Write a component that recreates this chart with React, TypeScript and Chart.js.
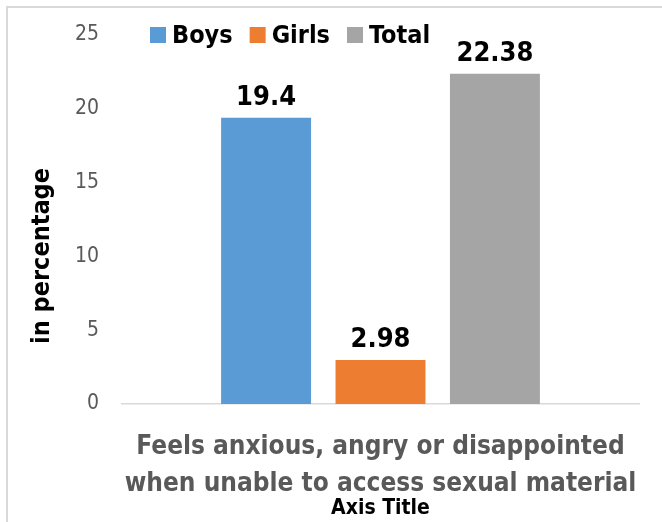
import React, { useEffect, useRef } from "react";
import { Chart, registerables } from "chart.js";

Chart.register(...registerables);

const categories: string[][] = [["Feels anxious, angry or disappointed", "when unable to access sexual material"]];
const seriesNames = ["Boys", "Girls", "Total"];
const boysValues = [19.4];
const girlsValues = [2.98];
const totalValues = [22.38];
const seriesColors = ["#5B9BD5", "#ED7D31", "#A5A5A5"];
const yTitle = "in percentage";
const xTitle = "Axis Title";

const FONT = '"Liberation Sans Narrow", "DejaVu Sans Condensed", Arial, sans-serif';

const framePlugin = {
  id: "frame",
  beforeDraw(chart: any) {
    const ctx = chart.ctx;
    ctx.save();
    ctx.strokeStyle = "#D9D9D9";
    ctx.lineWidth = 2;
    ctx.beginPath();
    ctx.moveTo(7, chart.height);
    ctx.lineTo(7, 7);
    ctx.lineTo(chart.width, 7);
    ctx.stroke();
    ctx.restore();
  },
};

const labelsPlugin = {
  id: "valueLabels",
  afterDatasetsDraw(chart: any) {
    const ctx = chart.ctx;
    ctx.save();
    ctx.font = `bold 27px ${FONT}`;
    ctx.fillStyle = "#000000";
    ctx.textAlign = "center";
    ctx.textBaseline = "alphabetic";
    chart.data.datasets.forEach((ds: any, i: number) => {
      const meta = chart.getDatasetMeta(i);
      meta.data.forEach((bar: any, j: number) => {
        ctx.fillText(String(ds.data[j]), bar.x, bar.y - 13);
      });
    });
    ctx.restore();
  },
};

const legendPlugin = {
  id: "customLegend",
  afterDraw(chart: any) {
    const ctx = chart.ctx;
    ctx.save();
    ctx.font = `bold 25px ${FONT}`;
    ctx.textBaseline = "middle";
    ctx.textAlign = "left";
    let x = 150;
    const y = 35;
    chart.data.datasets.forEach((ds: any) => {
      ctx.fillStyle = ds.backgroundColor;
      ctx.fillRect(x, y - 8, 16, 16);
      x += 22;
      ctx.fillStyle = "#000000";
      ctx.fillText(ds.label, x, y + 1);
      x += ctx.measureText(ds.label).width + 17;
    });
    ctx.restore();
  },
};

const yTitlePlugin = {
  id: "yTitle",
  afterDraw(chart: any) {
    const ctx = chart.ctx;
    ctx.save();
    ctx.font = `bold 25px ${FONT}`;
    ctx.fillStyle = "#000000";
    ctx.textAlign = "center";
    ctx.textBaseline = "middle";
    ctx.translate(42, 256);
    ctx.rotate(-Math.PI / 2);
    ctx.fillText(yTitle, 0, 0);
    ctx.restore();
  },
};

export default function App() {
  const ref = useRef<HTMLCanvasElement>(null);
  useEffect(() => {
    document.body.style.margin = "0";
    const chart = new Chart(ref.current as HTMLCanvasElement, {
      type: "bar",
      data: {
        labels: categories,
        datasets: [
          { label: seriesNames[0], data: boysValues, backgroundColor: seriesColors[0] },
          { label: seriesNames[1], data: girlsValues, backgroundColor: seriesColors[1] },
          { label: seriesNames[2], data: totalValues, backgroundColor: seriesColors[2] },
        ],
      },
      options: {
        animation: false,
        responsive: false,
        devicePixelRatio: 1,
        layout: { padding: { left: 20, right: 23, top: 35, bottom: 0 } },
        datasets: { bar: { categoryPercentage: 0.664, barPercentage: 0.786 } },
        plugins: { legend: { display: false }, tooltip: { enabled: false } },
        scales: {
          x: {
            grid: { display: false, drawTicks: false },
            border: { display: true, color: "#D9D9D9", width: 1.5 },
            ticks: {
              color: "#595959",
              font: { family: FONT, size: 26, weight: "bold", lineHeight: "37px" },
              padding: 25,
              maxRotation: 0,
              autoSkip: false,
            },
            title: {
              display: true,
              text: xTitle,
              color: "#000000",
              font: { family: FONT, size: 21, weight: "bold", lineHeight: "24px" },
              padding: { top: 0, bottom: 1 },
            },
            afterFit: (s: any) => {
              s.height = 118;
              s.paddingLeft = 0;
              s.paddingRight = 0;
            },
          },
          y: {
            min: 0,
            max: 25,
            grid: { display: false, drawTicks: false },
            border: { display: false },
            ticks: {
              stepSize: 5,
              color: "#595959",
              font: { family: FONT, size: 21 },
              padding: 23,
            },
            title: { display: false },
            afterFit: (s: any) => {
              s.width = 102;
              s.paddingTop = 0;
              s.paddingBottom = 0;
            },
          },
        },
      },
      plugins: [framePlugin, labelsPlugin, legendPlugin, yTitlePlugin],
    });
    return () => chart.destroy();
  }, []);
  return (
    <div style={{ position: "absolute", left: 0, top: 0, width: 662, height: 522, background: "#fff" }}>
      <canvas ref={ref} width={662} height={522} style={{ width: 662, height: 522 }} />
    </div>
  );
}
